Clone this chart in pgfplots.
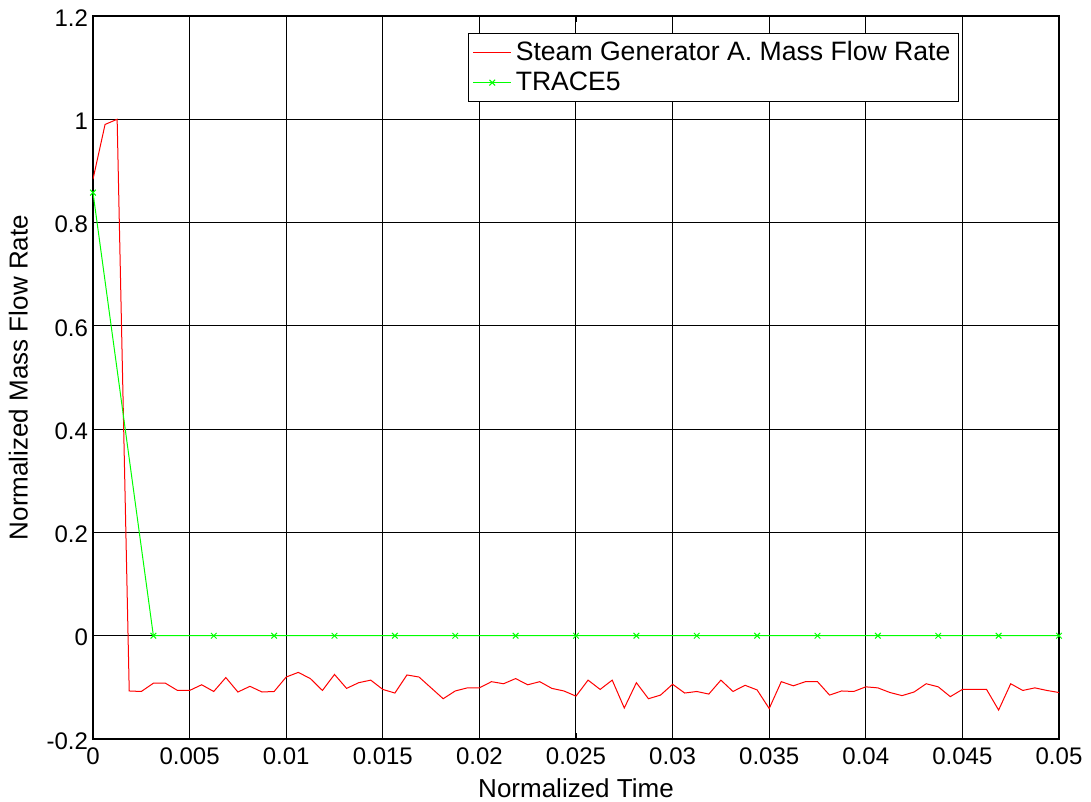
\documentclass[border=0pt]{standalone}
\usepackage{pgfplots}
\pgfplotsset{compat=1.18}
\usepackage{fontspec}
\setmainfont{Liberation Sans}

\pgfplotstableread{
t y
0.000000 0.884
0.000625 0.990
0.001250 1.000
0.001875 -0.107
0.002500 -0.108
0.003125 -0.092
0.003750 -0.092
0.004375 -0.106
0.005000 -0.106
0.005625 -0.095
0.006250 -0.108
0.006875 -0.081
0.007500 -0.109
0.008125 -0.098
0.008750 -0.109
0.009375 -0.108
0.010000 -0.080
0.010625 -0.071
0.011250 -0.083
0.011875 -0.106
0.012500 -0.075
0.013125 -0.102
0.013750 -0.091
0.014375 -0.086
0.015000 -0.104
0.015625 -0.111
0.016250 -0.076
0.016875 -0.080
0.017500 -0.101
0.018125 -0.122
0.018750 -0.107
0.019375 -0.101
0.020000 -0.101
0.020625 -0.089
0.021250 -0.093
0.021875 -0.083
0.022500 -0.095
0.023125 -0.089
0.023750 -0.102
0.024375 -0.107
0.025000 -0.117
0.025625 -0.086
0.026250 -0.104
0.026875 -0.086
0.027500 -0.140
0.028125 -0.091
0.028750 -0.122
0.029375 -0.115
0.030000 -0.094
0.030625 -0.111
0.031250 -0.108
0.031875 -0.113
0.032500 -0.086
0.033125 -0.108
0.033750 -0.096
0.034375 -0.105
0.035000 -0.141
0.035625 -0.089
0.036250 -0.097
0.036875 -0.089
0.037500 -0.089
0.038125 -0.115
0.038750 -0.107
0.039375 -0.108
0.040000 -0.099
0.040625 -0.101
0.041250 -0.110
0.041875 -0.116
0.042500 -0.109
0.043125 -0.093
0.043750 -0.099
0.044375 -0.118
0.045000 -0.104
0.045625 -0.104
0.046250 -0.104
0.046875 -0.144
0.047500 -0.093
0.048125 -0.106
0.048750 -0.101
0.049375 -0.106
0.050000 -0.110
}\steamA

\pgfplotstableread{
t y
0.000000 0.858
0.003125 0
0.006250 0
0.009375 0
0.012500 0
0.015625 0
0.018750 0
0.021875 0
0.025000 0
0.028125 0
0.031250 0
0.034375 0
0.037500 0
0.040625 0
0.043750 0
0.046875 0
0.050000 0
}\tracefive

\begin{document}
\begin{tikzpicture}
\path[use as bounding box] (-46.5pt,-31.5pt) rectangle (499pt,369.5pt);
\begin{axis}[
  scale only axis,
  width=483pt, height=361.5pt,
  xmin=0, xmax=0.05, ymin=-0.2, ymax=1.2,
  xtick={0,0.005,...,0.05},
  ytick={-0.2,0,0.2,0.4,0.6,0.8,1,1.2},
  xticklabels={0,0.005,0.01,0.015,0.02,0.025,0.03,0.035,0.04,0.045,0.05},
  yticklabels={-0.2,0,0.2,0.4,0.6,0.8,1,1.2},
  scaled x ticks=false,
  tick align=inside,
  major tick length=3pt,
  tick style={black, line width=0.4pt},
  grid=major,
  major grid style={black, line width=0.5pt},
  axis line style={black, line width=0.6pt},
  tick label style={font=\fontsize{12}{14}\selectfont},
  label style={font=\fontsize{13}{15}\selectfont},
  xlabel={Normalized Time},
  ylabel={Normalized Mass Flow Rate},
  xlabel style={at={(axis description cs:0.5,0)}, anchor=north, yshift=-16.5pt},
  ylabel style={at={(axis description cs:0,0.5)}, anchor=south, yshift=29pt},
  xticklabel style={yshift=-1pt},
  yticklabel style={xshift=1pt, yshift=-1pt},
  legend style={at={(axis description cs:0.8965,0.9765)}, anchor=north east,
    draw=black, line width=0.6pt, font=\fontsize{13.3}{15}\selectfont,
    inner sep=2pt, row sep=0pt, cells={anchor=west}},
  legend image code/.code={
    \draw[#1] (0pt,0pt) -- (19pt,0pt);
    \draw[#1, only marks] plot coordinates {(9.5pt,0pt)};
  },
]
\addplot[color=red, line width=0.5pt, mark=none] table[x=t, y=y] {\steamA};
\addlegendentry{Steam Generator A. Mass Flow Rate}
\addplot[color=green, line width=0.5pt, mark=x, mark size=2pt, mark options={solid}] table[x=t, y=y] {\tracefive};
\addlegendentry{TRACE5}
\end{axis}
\end{tikzpicture}
\end{document}
